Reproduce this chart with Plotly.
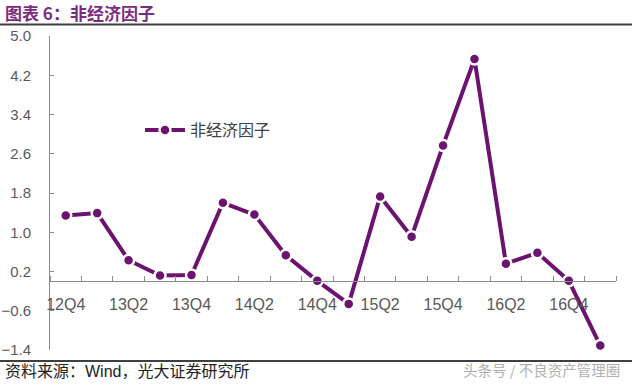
import plotly.graph_objects as go

categories = ["12Q4", "13Q1", "13Q2", "13Q3", "13Q4", "14Q1", "14Q2", "14Q3", "14Q4",
              "15Q1", "15Q2", "15Q3", "15Q4", "16Q1", "16Q2", "16Q3", "16Q4", "17Q1"]
values = [1.34, 1.39, 0.43, 0.12, 0.13, 1.60, 1.36, 0.53, 0.01,
          -0.46, 1.73, 0.91, 2.77, 4.53, 0.36, 0.58, 0.01, -1.31]
series_name = "非经济因子"
y_min, y_max, y_step = -1.4, 5.0, 0.8

W, H = 632, 388
L, R, T, B = 50, 16, 36, 38
pw, ph = W - L - R, H - T - B

def px_x(p):
    return (p - L) / pw

def px_y(p):
    return (H - B - p) / ph

LINE = "#6C136F"
GRAY = "#8C8C8C"
TXT = "#595959"
CJK = "Noto Sans CJK SC"

idx = list(range(len(categories)))
fig = go.Figure()
fig.add_trace(go.Scatter(
    x=idx, y=values, name=series_name, mode="lines+markers",
    line=dict(color=LINE, width=4),
    marker=dict(color=LINE, size=11, line=dict(color="white", width=2.5)),
))

fig.update_layout(
    width=W, height=H, margin=dict(l=L, r=R, t=T, b=B, autoexpand=False),
    paper_bgcolor="white", plot_bgcolor="white",
    font=dict(family="Liberation Sans, Arial", size=16, color=TXT),
    showlegend=True,
    legend=dict(x=px_x(140), y=px_y(130), xanchor="left", yanchor="middle",
                bgcolor="rgba(0,0,0,0)", font=dict(family=CJK, size=16, color="#404040"),
                itemwidth=40),
    xaxis=dict(
        range=[-0.5, len(categories) - 0.5],
        anchor="free", position=(0 - y_min) / (y_max - y_min),
        automargin=False,
        showline=True, linecolor=GRAY, linewidth=1,
        showgrid=False, zeroline=False,
        tickvals=idx[::2], ticktext=categories[::2], ticks="",
        tickfont=dict(size=16, color=TXT),
        ticklabelstandoff=8,
        minor=dict(tickvals=[i - 0.5 for i in range(len(categories) + 1)],
                   ticks="inside", ticklen=5, tickcolor=GRAY, showgrid=False),
    ),
    yaxis=dict(
        range=[y_min, y_max], tick0=y_min, dtick=y_step, tickformat=".1f",
        automargin=False,
        showline=True, linecolor=GRAY, linewidth=1,
        showgrid=False, zeroline=False,
        ticks="inside", ticklen=4, tickcolor=GRAY,
        tickfont=dict(size=15, color=TXT),
        ticklabelstandoff=15,
    ),
)

# Title and rules
fig.add_annotation(text="<b>图表 6：非经济因子</b>", xref="paper", yref="paper",
                   x=px_x(3), y=px_y(12), xanchor="left", yanchor="middle",
                   showarrow=False, font=dict(family=CJK, size=17, color="#7B2C80"))
fig.add_shape(type="line", xref="paper", yref="paper",
              x0=px_x(0), x1=px_x(W), y0=px_y(24.5), y1=px_y(24.5),
              line=dict(color="#3F3F3F", width=2))
fig.add_shape(type="line", xref="paper", yref="paper",
              x0=px_x(0), x1=px_x(W), y0=px_y(361), y1=px_y(361),
              line=dict(color="#3F3F3F", width=2))
fig.add_annotation(text="资料来源：<span style='font-family:Liberation Sans'>Wind</span>，光大证券研究所",
                   xref="paper", yref="paper",
                   x=px_x(3), y=px_y(370), xanchor="left", yanchor="middle",
                   showarrow=False, font=dict(family=CJK, size=16, color="#222222"))
fig.add_annotation(text="头条号 / 不良资产管理圈", xref="paper", yref="paper",
                   x=px_x(622), y=px_y(369), xanchor="right", yanchor="middle",
                   showarrow=False, font=dict(family=CJK, size=14.5, color="#B0B0B0"))

fig.write_html("out.html")
